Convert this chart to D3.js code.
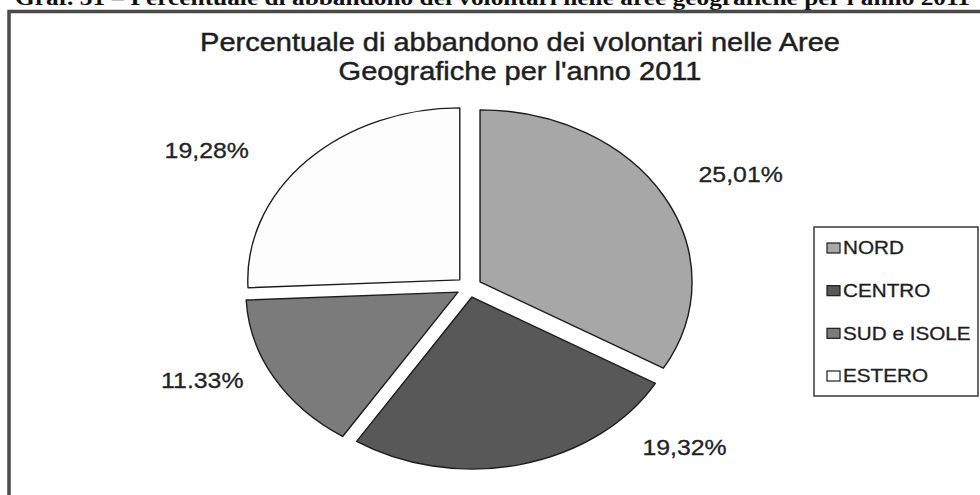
<!DOCTYPE html>
<html>
<head>
<meta charset="utf-8">
<script src="https://cdn.jsdelivr.net/npm/d3@7"></script>
<style>
  html, body { margin: 0; padding: 0; background: #fff; }
  svg { display: block; }
</style>
</head>
<body>
<div id="chart"></div>
<script>
const categories = ['NORD', 'CENTRO', 'SUD e ISOLE', 'ESTERO'];
const values = [25.01, 19.32, 11.33, 19.28];
const valueLabels = ['25,01%', '19,32%', '11.33%', '19,28%'];
const sliceColors = ['#a7a7a7', '#585858', '#7b7b7b', '#fdfdfd'];

const headerText = "Graf. 31 – Percentuale di abbandono dei volontari nelle aree geografiche per l'anno 2011";
const titleLines = ['Percentuale di abbandono dei volontari nelle Aree', "Geografiche per l'anno 2011"];

const W = 980, H = 495;
const cx = 469, cy = 287, rx = 212, ry = 172;
const explode = 0.06;
// label placement around the ellipse: angle nudge (deg) and radius factor
const labelAngleNudge = [2.8, -34, 6.5, -11];
const labelRadius = [1.44, 1.38, 1.37, 1.47];

const svg = d3.select('#chart').append('svg')
  .attr('width', W).attr('height', H)
  .attr('viewBox', `0 0 ${W} ${H}`);

// page header (cut at top, as in the scan)
svg.append('text')
  .attr('x', 15).attr('y', 5)
  .attr('textLength', 955).attr('lengthAdjust', 'spacingAndGlyphs')
  .attr('font-family', '"Liberation Serif", "Times New Roman", serif')
  .attr('font-weight', 'bold').attr('font-size', 22).attr('fill', '#111')
  .text(headerText);

// chart frame
svg.append('rect')
  .attr('x', 9).attr('y', 11.5).attr('width', 1000).attr('height', 520)
  .attr('fill', 'none').attr('stroke', '#4a4a4a').attr('stroke-width', 3.5);

const sans = '"Liberation Sans", Arial, sans-serif';

// chart title
const titleG = svg.append('g').attr('transform', 'translate(520,0) scale(1.16,1)');
titleG.selectAll('text').data(titleLines).enter().append('text')
  .attr('x', 0).attr('y', (d, i) => 51 + i * 29)
  .attr('text-anchor', 'middle')
  .attr('font-family', sans).attr('font-size', 25)
  .attr('fill', '#1e1e1e').attr('stroke', '#1e1e1e').attr('stroke-width', 0.45)
  .text(d => d);

// pie
const pie = d3.pie().sort(null).startAngle(0).endAngle(2 * Math.PI).value(d => d);
const arcs = pie(values);
const arc = d3.arc().innerRadius(0).outerRadius(1);

const pieG = svg.append('g').attr('transform', `translate(${cx},${cy}) scale(${rx},${ry})`);
pieG.selectAll('path').data(arcs).enter().append('path')
  .attr('transform', d => {
    const m = (d.startAngle + d.endAngle) / 2;
    return `translate(${explode * Math.sin(m)},${-explode * Math.cos(m)})`;
  })
  .attr('d', arc)
  .attr('fill', (d, i) => sliceColors[i])
  .attr('stroke', '#1c1c1c').attr('stroke-width', 1.4)
  .attr('stroke-linejoin', 'round')
  .attr('vector-effect', 'non-scaling-stroke');

// value labels
const labelG = svg.append('g').attr('transform', `translate(${cx},${cy})`);
labelG.selectAll('g').data(arcs).enter().append('g')
  .attr('transform', (d, i) => {
    const m = (d.startAngle + d.endAngle) / 2 + labelAngleNudge[i] * Math.PI / 180;
    const k = labelRadius[i];
    return `translate(${rx * k * Math.sin(m)},${-ry * k * Math.cos(m)}) scale(1.13,1)`;
  })
  .append('text')
  .attr('text-anchor', 'middle').attr('dy', '0.36em')
  .attr('font-family', sans).attr('font-size', 22)
  .attr('fill', '#222').attr('stroke', '#222').attr('stroke-width', 0.3)
  .text((d, i) => valueLabels[i]);

// legend
const legend = svg.append('g').attr('transform', 'translate(814,227)');
legend.append('rect')
  .attr('width', 164).attr('height', 169)
  .attr('fill', '#fff').attr('stroke', '#3a3a3a').attr('stroke-width', 1.5);

const legendY = d3.scalePoint().domain(categories).range([21, 149]);
const item = legend.selectAll('g.item').data(categories).enter().append('g')
  .attr('class', 'item')
  .attr('transform', d => `translate(13,${legendY(d)})`);
item.append('rect')
  .attr('x', 0).attr('y', -5).attr('width', 13).attr('height', 10)
  .attr('fill', (d, i) => sliceColors[i])
  .attr('stroke', '#1c1c1c').attr('stroke-width', 1.2);
item.append('g').attr('transform', 'translate(16,0) scale(1.15,1)')
  .append('text')
  .attr('dy', '0.36em')
  .attr('font-family', sans).attr('font-size', 18)
  .attr('fill', '#1e1e1e').attr('stroke', '#1e1e1e').attr('stroke-width', 0.3)
  .text(d => d);
</script>
</body>
</html>
